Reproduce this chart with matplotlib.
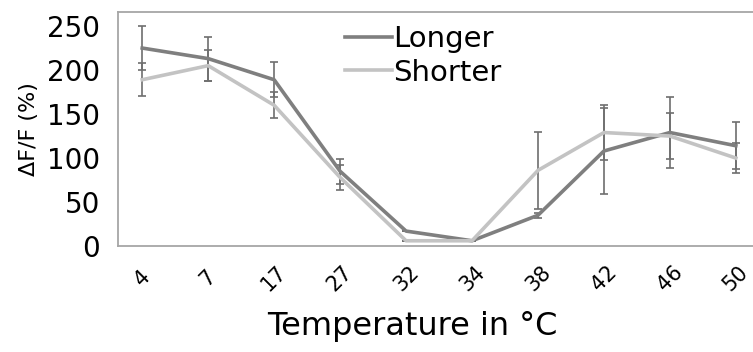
import numpy as np
import matplotlib
matplotlib.use('Agg')
import matplotlib.pyplot as plt

# temperature categories and dF/F values
temps = ['4', '7', '17', '27', '32', '34', '38', '42', '46', '50']
longer = [225, 213, 189, 85, 17, 6, 35, 108, 129, 114]
longer_err = [25, 25, 20, 14, 0, 0, 3, 49, 40, 27]
shorter = [189, 205, 160, 78, 6, 6, 86, 129, 125, 100]
shorter_err = [19, 18, 15, 14, 0, 0, 44, 31, 26, 17]

x = np.arange(len(temps))

fig = plt.figure(figsize=(7.53, 3.52), dpi=100)
ax = fig.add_axes([0.157, 0.301, 0.843, 0.665])

# error bars sit under the lines
ax.errorbar(x, longer, yerr=longer_err, fmt='none', ecolor='#6e6e6e',
            elinewidth=1.2, capsize=3.2, capthick=1.2, zorder=2)
ax.errorbar(x, shorter, yerr=shorter_err, fmt='none', ecolor='#6e6e6e',
            elinewidth=1.2, capsize=3.2, capthick=1.2, zorder=2)
ax.plot(x, longer, color='#7f7f7f', lw=2.6, label='Longer', zorder=3)
ax.plot(x, shorter, color='#c3c3c3', lw=2.6, label='Shorter', zorder=3)

ax.set_xlim(-0.364, 9.26)
ax.set_ylim(0, 266)
ax.set_yticks([0, 50, 100, 150, 200, 250])
ax.set_xticks(x)
ax.set_xticklabels(temps, rotation=45, ha='center', va='center', fontsize=15)
ax.tick_params(axis='x', length=0, pad=23)
ax.tick_params(axis='y', length=0, pad=13, labelsize=20)

for side in ['top', 'bottom', 'left']:
    ax.spines[side].set_color('#a6a6a6')
    ax.spines[side].set_linewidth(1.3)
ax.spines['right'].set_visible(False)

ax.set_ylabel('ΔF/F (%)', fontsize=16, labelpad=6)
ax.set_xlabel('Temperature in °C', fontsize=23, labelpad=12)
ax.xaxis.label.set_x(0.463)

ax.legend(loc='upper left', bbox_to_anchor=(0.357, 0.945), frameon=False,
          fontsize=21, handlelength=1.6, handletextpad=0.05,
          labelspacing=0.2, borderpad=0, borderaxespad=0)

plt.savefig('out.png', dpi=100)
